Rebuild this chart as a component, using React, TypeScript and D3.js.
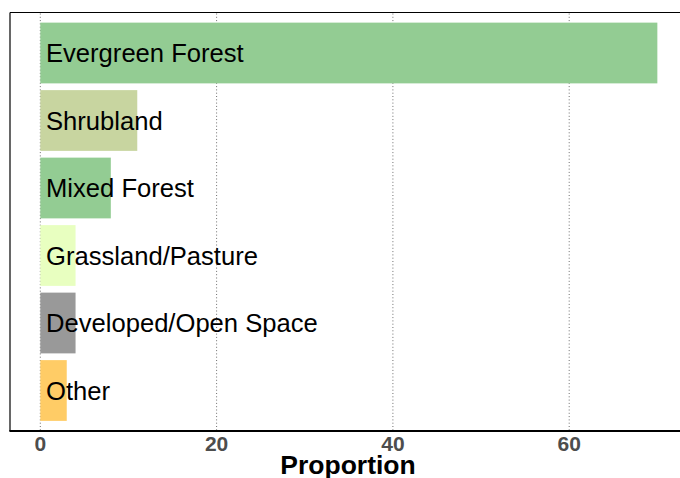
import React from "react";
import * as d3 from "d3";

const categories = ["Evergreen Forest", "Shrubland", "Mixed Forest", "Grassland/Pasture", "Developed/Open Space", "Other"];
const values = [70, 11, 8, 4, 4, 3];
const colors = ["#93CC93", "#C8D5A0", "#93CC93", "#E8FFC0", "#999999", "#FFCC66"];
const xTicks = [0, 20, 40, 60];
const xTitle = "Proportion";

const W = 680;
const H = 478;
const panel = { left: 10, top: 12.5, right: 685, bottom: 431 };

export default function App() {
  const x = d3.scaleLinear().domain([0, 20]).range([40.3, 216.6]);
  // discrete axis with ggplot-like expansion of 0.6 units on each side
  const y = d3
    .scalePoint<string>()
    .domain(categories)
    .range([panel.top, panel.bottom])
    .padding(0.6);
  const step = y.step();
  const barH = step * 0.9;
  const font = "Arial, 'Liberation Sans', Helvetica, sans-serif";
  return (
    <svg
      width={W}
      height={H}
      style={{ position: "absolute", left: 0, top: 0 }}
      xmlns="http://www.w3.org/2000/svg"
    >
      <rect x={0} y={0} width={W} height={H} fill="#ffffff" />
      {xTicks.map((t) => (
        <line
          key={"g" + t}
          x1={x(t)}
          x2={x(t)}
          y1={panel.top + 1}
          y2={panel.bottom}
          stroke="#6e6e6e"
          strokeWidth={1}
          strokeDasharray="1,2.3"
        />
      ))}
      {categories.map((c, i) => (
        <rect
          key={"b" + c}
          x={x(0)}
          y={(y(c) as number) - barH / 2}
          width={x(values[i]) - x(0)}
          height={barH}
          fill={colors[i]}
        />
      ))}
      {categories.map((c) => (
        <text
          key={"t" + c}
          x={46}
          y={(y(c) as number) + 9.2}
          fontFamily={font}
          fontSize={25.6}
          fill="#000000"
        >
          {c}
        </text>
      ))}
      <line x1={panel.left} x2={panel.right} y1={panel.top} y2={panel.top} stroke="#000" strokeWidth={1.2} />
      <line x1={panel.left} x2={panel.left} y1={panel.top} y2={panel.bottom} stroke="#000" strokeWidth={1.2} />
      <line x1={panel.left - 0.6} x2={panel.right} y1={panel.bottom} y2={panel.bottom} stroke="#000" strokeWidth={2} />
      {xTicks.map((t) => (
        <text
          key={"l" + t}
          x={x(t)}
          y={450.5}
          textAnchor="middle"
          fontFamily={font}
          fontWeight="bold"
          fontSize={21}
          fill="#4D4D4D"
        >
          {t}
        </text>
      ))}
      <text
        x={348}
        y={473.5}
        textAnchor="middle"
        fontFamily={font}
        fontWeight="bold"
        fontSize={26.5}
        fill="#000000"
      >
        {xTitle}
      </text>
    </svg>
  );
}
